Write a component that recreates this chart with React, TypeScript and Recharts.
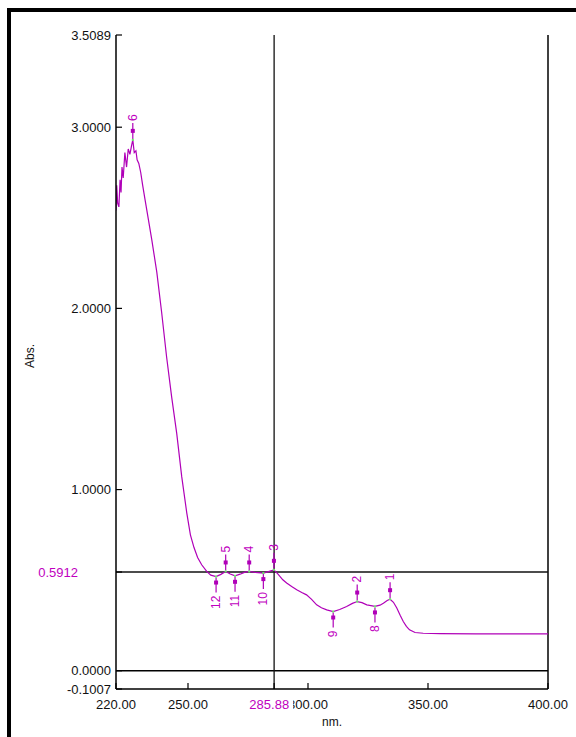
import { ComposedChart, Line, Scatter, XAxis, YAxis, ReferenceLine } from "recharts";

// spectrum
const wavelength = [
  220.0, 220.3, 220.7, 221.2, 221.7, 222.1, 222.5, 223.0, 223.7, 224.4, 225.1, 225.8, 226.5, 227.0,
  227.6, 228.3, 228.8, 229.5, 230.3, 231.1, 232.1, 233.5, 234.9, 237.0, 239.0, 241.1, 243.2, 245.3,
  247.4, 249.5, 251.0, 252.5, 254.0, 255.7, 257.8, 259.5, 261.7, 263.7, 265.7, 267.6, 269.6, 271.7,
  273.5, 275.5, 278.0, 281.4, 283.5, 285.8, 287.6, 289.5, 291.1, 293.2, 295.3, 297.4, 299.4, 301.5,
  303.6, 305.6, 307.8, 310.5, 313.2, 316.1, 318.5, 320.5, 322.5, 324.5, 327.9, 330.0, 331.4, 333.0,
  334.2, 335.6, 337.0, 338.4, 339.7, 341.0, 342.3, 344.6, 348.0, 355.0, 370.0, 385.0, 400.0,
];
const absorbance = [
  2.54, 2.68, 2.58, 2.56, 2.71, 2.64, 2.78, 2.72, 2.86, 2.78, 2.88, 2.85, 2.9, 2.93,
  2.86, 2.87, 2.82, 2.8, 2.75, 2.68, 2.6, 2.49, 2.38, 2.2, 1.98, 1.73, 1.51, 1.31,
  1.07, 0.87, 0.75, 0.68, 0.625, 0.585, 0.548, 0.528, 0.52, 0.532, 0.548, 0.534, 0.524, 0.533,
  0.543, 0.548, 0.543, 0.539, 0.547, 0.557, 0.532, 0.502, 0.484, 0.465, 0.447, 0.432, 0.419, 0.394,
  0.364, 0.348, 0.336, 0.327, 0.338, 0.355, 0.372, 0.382, 0.376, 0.364, 0.355, 0.362, 0.373, 0.388,
  0.395, 0.378, 0.346, 0.306, 0.272, 0.245, 0.226, 0.211, 0.207, 0.205, 0.204, 0.204, 0.204,
];

const peakNm = [334.2, 320.5, 285.8, 275.5, 265.7, 227.0];
const peakAbs = [0.395, 0.382, 0.557, 0.548, 0.548, 2.93];
const peakNo = ["1", "2", "3", "4", "5", "6"];

const valleyNm = [327.9, 310.5, 281.4, 269.6, 261.7];
const valleyAbs = [0.355, 0.327, 0.539, 0.524, 0.52];
const valleyNo = ["8", "9", "10", "11", "12"];

const xTicks = [220, 250, 300, 350, 400];
const xTopTicks = [250, 300, 350];
const yTicks = [-0.1007, 0, 1, 2, 3, 3.5089];

const cursorNm = 285.88;
const cursorAbs = 0.545; // where the cursor line sits on screen
const cursorText = "0.5912";

const MAG = "#B000B8";
const TXT = "#C000C0";
const FONT = "'Liberation Sans', Arial, sans-serif";

const spectrum = wavelength.map((nm, i) => ({ nm, abs: absorbance[i] }));
const peaks = peakNm.map((nm, i) => ({ nm, abs: peakAbs[i], no: peakNo[i] }));
const valleys = valleyNm.map((nm, i) => ({ nm, abs: valleyAbs[i], no: valleyNo[i] }));

const PeakMark = (p: any) => {
  const { cx, cy, payload } = p;
  return (
    <g>
      <line x1={cx} y1={cy - 1} x2={cx} y2={cy - 17} stroke={MAG} strokeWidth={1.2} />
      <rect x={cx - 2} y={cy - 11} width={4} height={4} fill={MAG} />
      <rect x={cx - 1} y={cy - 1} width={2} height={2} fill="#66F266" />
      <text
        transform={`translate(${cx},${cy - 19}) rotate(-90)`}
        textAnchor="start"
        dominantBaseline="central"
        fontSize={12}
        fontFamily={FONT}
        fill={TXT}
      >
        {payload.no}
      </text>
    </g>
  );
};

const ValleyMark = (p: any) => {
  const { cx, cy, payload } = p;
  return (
    <g>
      <line x1={cx} y1={cy + 1} x2={cx} y2={cy + 16} stroke={MAG} strokeWidth={1.2} />
      <rect x={cx - 2} y={cy + 4} width={4} height={4} fill={MAG} />
      <rect x={cx - 1} y={cy - 1} width={2} height={2} fill="#66F266" />
      <text
        transform={`translate(${cx},${cy + 19}) rotate(-90)`}
        textAnchor="end"
        dominantBaseline="central"
        fontSize={12}
        fontFamily={FONT}
        fill={TXT}
      >
        {payload.no}
      </text>
    </g>
  );
};

const XTick = (p: any) => {
  const { x, y, payload } = p;
  if (payload.value === cursorNm) {
    return (
      <g>
        <rect x={x - 27} y={y - 2} width={46} height={14} fill="#fff" />
        <text x={x + 15} y={y} dy="0.71em" textAnchor="end" fontSize={13} fontFamily={FONT} fill={TXT}>
          {cursorNm.toFixed(2)}
        </text>
      </g>
    );
  }
  return (
    <text x={x} y={y} dy="0.71em" textAnchor="middle" fontSize={13} fontFamily={FONT} fill="#111">
      {Number(payload.value).toFixed(2)}
    </text>
  );
};

const YTick = (p: any) => {
  const { x, y, payload } = p;
  if (payload.value === cursorAbs) {
    return (
      <text x={x - 33} y={y} dy="0.35em" textAnchor="end" fontSize={13} fontFamily={FONT} fill={TXT}>
        {cursorText}
      </text>
    );
  }
  return (
    <text x={x} y={y} dy="0.35em" textAnchor="end" fontSize={13} fontFamily={FONT} fill="#111">
      {Number(payload.value).toFixed(4)}
    </text>
  );
};

const AbsLabel = (p: any) => {
  const vb = p.viewBox;
  const cx = vb.x - 26;
  const cy = vb.y + vb.height / 2 - 6;
  return (
    <text
      transform={`translate(${cx},${cy}) rotate(-90)`}
      textAnchor="middle"
      dominantBaseline="central"
      fontSize={12}
      fontFamily={FONT}
      fill="#111"
    >
      Abs.
    </text>
  );
};

const NmLabel = (p: any) => {
  const vb = p.viewBox;
  return (
    <text
      x={vb.x + vb.width / 2}
      y={vb.y + 33}
      textAnchor="middle"
      dominantBaseline="central"
      fontSize={12}
      fontFamily={FONT}
      fill="#111"
    >
      nm.
    </text>
  );
};

export default function App() {
  return (
    <div style={{ position: "absolute", left: 0, top: 0, width: 576, height: 737, background: "#fff", overflow: "hidden" }}>
      <div
        style={{
          position: "absolute",
          left: 7,
          top: 8,
          width: 600,
          height: 760,
          borderLeft: "4px solid #000",
          borderTop: "4px solid #000",
          boxSizing: "border-box",
        }}
      />
      <div style={{ position: "absolute", left: 0, top: 0 }}>
        <ComposedChart width={576} height={737} data={spectrum} margin={{ top: 35, right: 28, bottom: 8, left: 56 }}>
          <XAxis
            dataKey="nm"
            type="number"
            domain={[220, 400]}
            allowDataOverflow
            ticks={[...xTicks, cursorNm]}
            interval={0}
            height={40}
            tickSize={-6}
            tickMargin={17}
            tick={<XTick />}
            axisLine={{ stroke: "#000", strokeWidth: 1.5 }}
            tickLine={{ stroke: "#000", strokeWidth: 1.2 }}
            label={<NmLabel />}
          />
          <XAxis
            xAxisId="top"
            orientation="top"
            type="number"
            domain={[220, 400]}
            allowDataOverflow
            ticks={xTopTicks}
            interval={0}
            height={0}
            tickSize={-6}
            tick={false}
            axisLine={{ stroke: "#000", strokeWidth: 1.5 }}
            tickLine={{ stroke: "#000", strokeWidth: 1.2 }}
          />
          <YAxis
            type="number"
            domain={[-0.1007, 3.5089]}
            allowDataOverflow
            ticks={[...yTicks, cursorAbs]}
            interval={0}
            width={60}
            tickSize={-6}
            tickMargin={11}
            tick={<YTick />}
            axisLine={{ stroke: "#000", strokeWidth: 1.5 }}
            tickLine={{ stroke: "#000", strokeWidth: 1.2 }}
            label={<AbsLabel />}
          />
          <ReferenceLine x={400} stroke="#000" strokeWidth={1.5} />
          <ReferenceLine y={0} stroke="#000" strokeWidth={1.3} />
          <ReferenceLine y={cursorAbs} stroke="#111" strokeWidth={1.3} />
          <ReferenceLine x={cursorNm} stroke="#111" strokeWidth={1.3} />
          <Line
            dataKey="abs"
            type="linear"
            stroke={MAG}
            strokeWidth={1.2}
            dot={false}
            activeDot={false}
            isAnimationActive={false}
          />
          <Scatter data={peaks} dataKey="abs" shape={PeakMark} isAnimationActive={false} />
          <Scatter data={valleys} dataKey="abs" shape={ValleyMark} isAnimationActive={false} />
        </ComposedChart>
      </div>
    </div>
  );
}
